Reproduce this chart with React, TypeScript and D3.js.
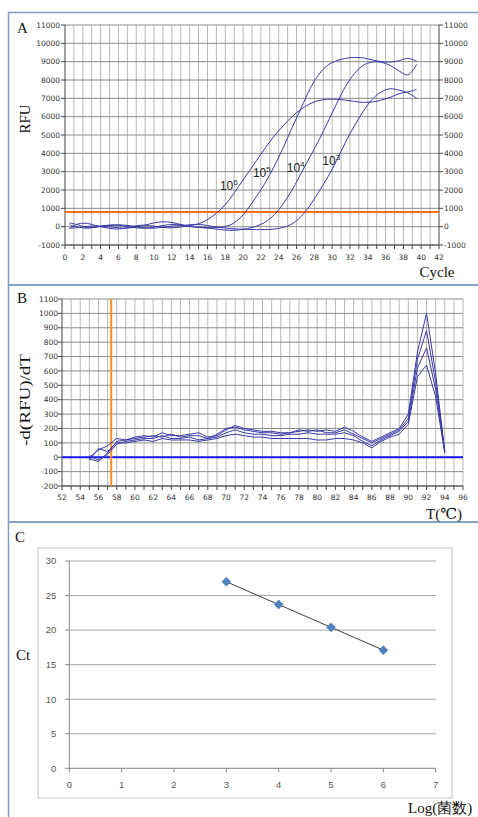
import React from "react";
import * as d3 from "d3";

// ---------- Panel A: amplification curves ----------
const cycles = d3.range(0.5, 40, 1);
const rfu1e6 = [-100,150,180,50,-50,-120,-100,0,80,60,0,-60,-50,20,100,250,550,950,1500,2200,2900,3600,4300,4950,5500,6000,6400,6700,6880,6950,6950,6900,6830,6780,6800,6900,7050,7250,7350,7480];
const rfu1e5 = [200,100,-50,-20,50,80,50,-30,-80,-60,20,100,120,60,0,-40,-60,-20,80,400,950,1650,2400,3300,4300,5400,6450,7500,8300,8800,9050,9180,9230,9200,9100,9000,8980,9050,9180,9030];
const rfu1e4 = [-80,-50,20,40,10,-30,-80,-60,20,150,250,260,180,60,-20,-60,-100,-160,-200,-180,-100,30,250,650,1250,2000,2900,3800,4700,5700,6700,7650,8350,8800,8980,8970,8800,8500,8280,8850];
const rfu1e3 = [100,-30,-80,-20,60,100,90,40,-30,-80,-60,0,50,80,120,100,20,-50,-100,-130,-150,-160,-160,-130,-40,150,550,1150,1900,2700,3600,4600,5500,6300,6950,7350,7520,7450,7300,7000];
const ampSeries = [rfu1e6, rfu1e5, rfu1e4, rfu1e3];
const ampExponents = ["6", "5", "4", "3"];
const ampLabelCycle = [17.4, 21.1, 24.9, 28.9];
const ampLabelRFU = [2000, 2700, 3000, 3350];
const thresholdRFU = 800;
const yTicksA = d3.range(-1000, 11001, 1000);
const xTicksA = d3.range(0, 43, 2);

// ---------- Panel B: melt curves ----------
const meltTemps = d3.range(55, 95, 1);
const melt1 = [0,50,80,130,120,140,150,140,170,150,150,160,170,140,150,190,220,200,190,180,180,170,170,180,190,180,190,180,210,180,140,110,140,170,200,300,730,1000,580,40];
const melt2 = [-10,-30,30,110,120,130,140,150,140,160,140,150,150,130,160,200,210,190,180,170,170,160,170,190,180,190,170,170,190,160,130,100,130,160,190,270,680,880,520,35];
const melt3 = [10,-20,20,90,110,120,130,130,150,130,130,140,120,130,140,170,190,170,160,160,150,150,160,160,170,160,160,160,170,150,110,80,120,150,180,250,620,760,470,45];
const melt4 = [-20,60,40,100,100,110,120,110,130,120,120,120,110,120,130,150,160,150,140,140,130,130,130,130,130,120,120,130,130,120,100,65,110,140,160,230,560,640,420,30];
const meltSeries = [melt1, melt2, melt3, melt4];
const meltMarkerT = 57.4;
const yTicksB = d3.range(-200, 1101, 100);
const xTicksB = d3.range(52, 97, 2);

// ---------- Panel C: standard curve ----------
const logCounts = [3, 4, 5, 6];
const ctValues = [27.0, 23.7, 20.4, 17.1];
const yTicksC = [0, 5, 10, 15, 20, 25, 30];
const xTicksC = [0, 1, 2, 3, 4, 5, 6, 7];

const SERIF = "'Liberation Serif', 'DejaVu Serif', serif";
const TICKFONT = "'DejaVu Sans', Verdana, sans-serif";
const CFONT = "'Liberation Sans', Arial, sans-serif";

export default function App() {
  // scales
  const xA = d3.scaleLinear().domain([0, 42]).range([65, 439]);
  const yA = d3.scaleLinear().domain([-1000, 11000]).range([245, 25]);
  const xB = d3.scaleLinear().domain([52, 96]).range([62, 463]);
  const yB = d3.scaleLinear().domain([-200, 1100]).range([486, 299]);
  const xC = d3.scaleLinear().domain([0, 7]).range([69.3, 435.7]);
  const yC = d3.scaleLinear().domain([0, 30]).range([768.3, 561]);

  const lineA = d3
    .line<[number, number]>()
    .x((d) => xA(d[0]))
    .y((d) => yA(d[1]))
    .curve(d3.curveCatmullRom.alpha(0.5));
  const lineB = d3
    .line<[number, number]>()
    .x((d) => xB(d[0]))
    .y((d) => yB(d[1]));

  // regression for C
  const mx = d3.mean(logCounts)!;
  const my = d3.mean(ctValues)!;
  const slope =
    d3.sum(logCounts.map((x, i) => (x - mx) * (ctValues[i] - my))) /
    d3.sum(logCounts.map((x) => (x - mx) ** 2));
  const icpt = my - slope * mx;
  const xMin = d3.min(logCounts)!;
  const xMax = d3.max(logCounts)!;

  const [a0, a1] = xA.range();
  const [bTop, bBot] = [yB(1100), yB(-200)];

  return (
    <svg
      width={478}
      height={817}
      style={{ position: "absolute", left: 0, top: 0, background: "#fff" }}
    >
      <rect x={0} y={0} width={478} height={817} fill="#fff" />
      {/* panel frames */}
      <g fill="none" stroke="#7f9cc4" strokeWidth={1.5}>
        <rect x={8.5} y={12.5} width={480} height={272.5} />
        <rect x={8.5} y={285} width={480} height={237} />
        <rect x={8.5} y={522} width={480} height={310} />
      </g>

      {/* ================= Panel A ================= */}
      <g>
        {d3.range(1, 42).map((c) => (
          <line key={"va" + c} x1={xA(c)} x2={xA(c)} y1={yA(11000)} y2={yA(-1000)} stroke="#b8b8b8" strokeWidth={1} />
        ))}
        {yTicksA.map((v) => (
          <line key={"ha" + v} x1={a0} x2={a1} y1={yA(v)} y2={yA(v)} stroke="#8c8c8c" strokeWidth={1} />
        ))}
        {/* axes */}
        <line x1={a0} x2={a0} y1={yA(11000)} y2={yA(-1000)} stroke="#444" />
        <line x1={a1} x2={a1} y1={yA(11000)} y2={yA(-1000)} stroke="#444" />
        <line x1={a0} x2={a1} y1={yA(-1000)} y2={yA(-1000)} stroke="#444" />
        {d3.range(0, 43).map((c) => (
          <line key={"ta" + c} x1={xA(c)} x2={xA(c)} y1={yA(-1000)} y2={yA(-1000) + 4} stroke="#444" />
        ))}
        {yTicksA.map((v) => (
          <g key={"tya" + v}>
            <line x1={a0 - 4} x2={a0} y1={yA(v)} y2={yA(v)} stroke="#444" />
            <line x1={a1} x2={a1 + 4} y1={yA(v)} y2={yA(v)} stroke="#444" />
            <text x={a0 - 5} y={yA(v) + 2.7} textAnchor="end" fontFamily={TICKFONT} fontSize={7.5} fill="#333">{v}</text>
            <text x={a1 + 5} y={yA(v) + 2.7} textAnchor="start" fontFamily={TICKFONT} fontSize={7.5} fill="#333">{v}</text>
          </g>
        ))}
        {xTicksA.map((c) => (
          <text key={"xla" + c} x={xA(c)} y={yA(-1000) + 15} textAnchor="middle" fontFamily={TICKFONT} fontSize={7.5} fill="#333">{c}</text>
        ))}
        {/* threshold */}
        <line x1={a0} x2={a1} y1={yA(thresholdRFU)} y2={yA(thresholdRFU)} stroke="#ff6f1a" strokeWidth={2} />
        {/* curves */}
        {ampSeries.map((s, i) => (
          <path key={"amp" + i} d={lineA(cycles.map((c, j) => [c, s[j]]))!} fill="none" stroke="#3a3aa8" strokeWidth={1} />
        ))}
        {ampExponents.map((e, i) => (
          <text key={"al" + i} x={xA(ampLabelCycle[i])} y={yA(ampLabelRFU[i])} fontFamily={CFONT} fontSize={12} fill="#222">
            10
            <tspan dy={-5} fontSize={8}>{e}</tspan>
          </text>
        ))}
        <text x={17} y={33} fontFamily={SERIF} fontSize={15} fill="#111">A</text>
        <text transform="translate(30,119) rotate(-90)" textAnchor="middle" fontFamily={SERIF} fontSize={15} fill="#111">RFU</text>
        <text x={437} y={277} textAnchor="middle" fontFamily={SERIF} fontSize={15} fill="#111">Cycle</text>
      </g>

      {/* ================= Panel B ================= */}
      <g>
        {d3.range(53, 97).map((t) => (
          <line key={"vb" + t} x1={xB(t)} x2={xB(t)} y1={bTop} y2={bBot} stroke="#b8b8b8" strokeWidth={1} />
        ))}
        {yTicksB.map((v) => (
          <line key={"hb" + v} x1={xB(52)} x2={xB(96)} y1={yB(v)} y2={yB(v)} stroke="#8c8c8c" strokeWidth={1} />
        ))}
        <line x1={xB(52)} x2={xB(52)} y1={bTop} y2={bBot} stroke="#444" />
        <line x1={xB(52)} x2={xB(96)} y1={bBot} y2={bBot} stroke="#444" />
        {d3.range(52, 97).map((t) => (
          <line key={"tb" + t} x1={xB(t)} x2={xB(t)} y1={bBot} y2={bBot + 4} stroke="#444" />
        ))}
        {yTicksB.map((v) => (
          <g key={"tyb" + v}>
            <line x1={xB(52) - 4} x2={xB(52)} y1={yB(v)} y2={yB(v)} stroke="#444" />
            <text x={xB(52) - 4} y={yB(v) + 2.7} textAnchor="end" fontFamily={TICKFONT} fontSize={7.5} fill="#333">{v}</text>
          </g>
        ))}
        {xTicksB.map((t) => (
          <text key={"xlb" + t} x={xB(t)} y={bBot + 14} textAnchor="middle" fontFamily={TICKFONT} fontSize={7.5} fill="#333">{t}</text>
        ))}
        <line x1={xB(52)} x2={xB(96)} y1={yB(0)} y2={yB(0)} stroke="#1a1aff" strokeWidth={2} />
        <line x1={xB(meltMarkerT)} x2={xB(meltMarkerT)} y1={bTop} y2={bBot} stroke="#ff8c1a" strokeWidth={2} />
        {meltSeries.map((s, i) => (
          <path key={"melt" + i} d={lineB(meltTemps.map((t, j) => [t, s[j]]))!} fill="none" stroke="#3a3aa8" strokeWidth={1} />
        ))}
        <text x={17} y={303} fontFamily={SERIF} fontSize={15} fill="#111">B</text>
        <text transform="translate(30,400) rotate(-90)" textAnchor="middle" fontFamily={SERIF} fontSize={15} fill="#111" textLength={92} lengthAdjust="spacingAndGlyphs">-d(RFU)/dT</text>
        <text x={444} y={519} textAnchor="middle" fontFamily={SERIF} fontSize={15} fill="#111">T(℃)</text>
      </g>

      {/* ================= Panel C ================= */}
      <g>
        <rect x={38} y={548} width={414} height={250} fill="#fff" stroke="#c4c4c4" strokeWidth={1} />
        {yTicksC.filter((v) => v > 0).map((v) => (
          <line key={"hc" + v} x1={xC(0)} x2={xC(7)} y1={yC(v)} y2={yC(v)} stroke="#a6a6a6" strokeWidth={1} />
        ))}
        <line x1={xC(0)} x2={xC(0)} y1={yC(30)} y2={yC(0)} stroke="#868686" />
        <line x1={xC(0)} x2={xC(7)} y1={yC(0)} y2={yC(0)} stroke="#868686" />
        {yTicksC.map((v) => (
          <g key={"tyc" + v}>
            <line x1={xC(0) - 4} x2={xC(0)} y1={yC(v)} y2={yC(v)} stroke="#868686" />
            <text x={xC(0) - 13} y={yC(v) + 3.3} textAnchor="end" fontFamily={CFONT} fontSize={9.5} fill="#595959">{v}</text>
          </g>
        ))}
        {xTicksC.map((v) => (
          <g key={"txc" + v}>
            <line x1={xC(v)} x2={xC(v)} y1={yC(0)} y2={yC(0) + 4} stroke="#868686" />
            <text x={xC(v)} y={yC(0) + 20} textAnchor="middle" fontFamily={CFONT} fontSize={9.5} fill="#595959">{v}</text>
          </g>
        ))}
        <line
          x1={xC(xMin)}
          x2={xC(xMax)}
          y1={yC(icpt + slope * xMin)}
          y2={yC(icpt + slope * xMax)}
          stroke="#404040"
          strokeWidth={1}
        />
        {logCounts.map((x, i) => {
          const cx = xC(x);
          const cy = yC(ctValues[i]);
          const r = 4.5;
          return (
            <path key={"pt" + i} d={`M${cx},${cy - r}L${cx + r},${cy}L${cx},${cy + r}L${cx - r},${cy}Z`} fill="#4f81bd" stroke="#3d6ea8" strokeWidth={0.5} />
          );
        })}
        <text x={15} y={542} fontFamily={SERIF} fontSize={15} fill="#111">C</text>
        <text x={16} y={660} fontFamily={SERIF} fontSize={15} fill="#111">Ct</text>
        <text x={408} y={813} fontFamily={SERIF} fontSize={15} fill="#111">Log(菌数)</text>
      </g>
    </svg>
  );
}
